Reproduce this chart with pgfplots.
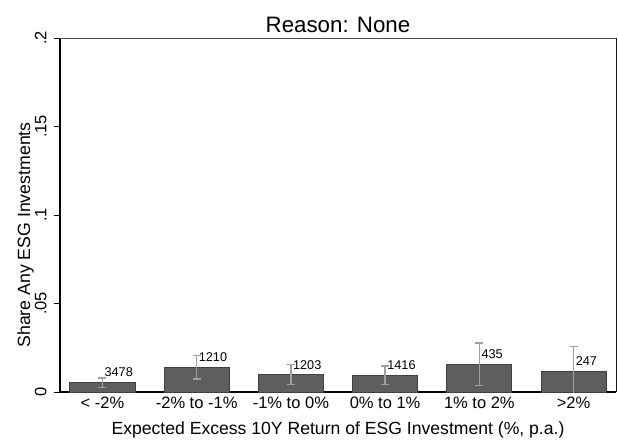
\documentclass[border=0pt]{standalone}
\usepackage{fontspec}
\setmainfont{Liberation Sans}
\usepackage{pgfplots}
\pgfplotsset{compat=1.18}
\definecolor{barfill}{HTML}{5E5E5E}
\definecolor{barline}{HTML}{404040}
\definecolor{errc}{HTML}{A0A0A0}
\begin{document}
\begin{tikzpicture}
\begin{axis}[
  scale only axis,
  width=556pt, height=354pt,
  xmin=0.55, xmax=6.45,
  ymin=0, ymax=0.2,
  axis x line*=bottom, axis y line*=left,
  axis line style={black, line width=1.1pt},
  x axis line style={-}, y axis line style={-},
  xtick={1,2,3,4,5,6},
  xticklabels={{< -2\%},{-2\% to -1\%},{-1\% to 0\%},{0\% to 1\%},{1\% to 2\%},{>2\%}},
  xtick style={draw=none},
  ytick={0,0.05,0.1,0.15,0.2},
  yticklabels={0,.05,.1,.15,.2},
  ytick style={black, line width=0.8pt},
  tick align=outside,
  major tick length=6pt,
  /pgf/number format/assume math mode=true,
  tick label style={font=\fontsize{16.5}{18}\selectfont},
  yticklabel style={rotate=90, anchor=south, xshift=0pt, yshift=4pt},
  xticklabel style={yshift=5pt},
  xlabel={Expected Excess 10Y Return of ESG Investment (\%, p.a.)},
  ylabel={Share Any ESG Investments},
  xlabel style={font=\fontsize{17.6}{20}\selectfont, yshift=-7pt},
  ylabel style={font=\fontsize{17.7}{20}\selectfont, yshift=-6pt, xshift=-20pt},
  title={Reason: None},
  title style={font=\fontsize{22.3}{25}\selectfont, yshift=-4pt},
  clip=true,
  after end axis/.code={
    \draw[black!70, line width=0.8pt] (rel axis cs:0,1) -- (rel axis cs:1,1);
    \draw[black!90, line width=0.9pt] (rel axis cs:1,1) -- (rel axis cs:1,0);
  },
]
\addplot[ybar, bar width=0.69, fill=barfill, draw=barline, line width=0.8pt] coordinates {
  (1,0.0053) (2,0.0140) (3,0.0098) (4,0.0094) (5,0.0156) (6,0.0117)
};
\addplot[draw=none, mark=none, errc, line width=1.4pt,
  error bars/.cd, y dir=both, y explicit,
  error bar style={errc, line width=1.4pt},
  error mark options={errc, rotate=90, mark size=4pt, line width=1.4pt}]
  coordinates {
  (1,0.0053) +- (0,0.0026)
  (2,0.0140) +- (0,0.0066)
  (3,0.0098) +- (0,0.0057)
  (4,0.0094) +- (0,0.0052)
  (5,0.0156) +- (0,0.0120)
  (6,0.0117) +- (0,0.0139)
};
\addplot[draw=none, mark=none,
  nodes near coords, point meta=explicit symbolic,
  every node near coord/.append style={anchor=west, xshift=0pt, yshift=10pt, inner sep=2pt,
    font=\fontsize{12.7}{14}\selectfont, text=black}]
  coordinates {
  (1,0.0053) [3478]
  (2,0.0140) [1210]
  (3,0.0098) [1203]
  (4,0.0094) [1416]
  (5,0.0156) [435]
  (6,0.0117) [247]
};
\end{axis}
\pgfresetboundingbox
\useasboundingbox (-60pt,-47pt) rectangle (558pt,392pt);
\end{tikzpicture}
\end{document}
